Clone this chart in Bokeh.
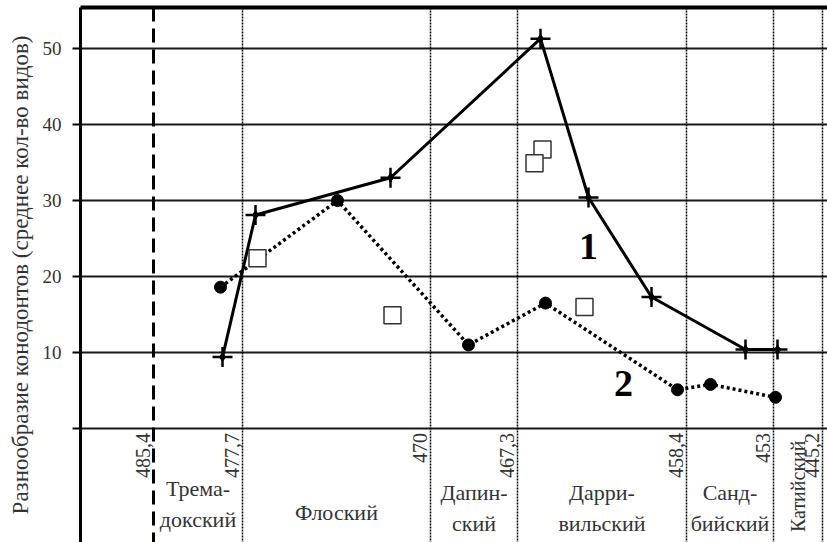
import math
from bokeh.plotting import figure
from bokeh.models import Span, FixedTicker, ColumnDataSource
from bokeh.core.properties import value
from bokeh.embed import file_html
from bokeh.resources import INLINE

# ---- data (x = position along the stage scale, y = mean number of species) ----
boundary_pos = [7.3, 16.2, 35.0, 43.7, 60.6, 69.3, 74.2]
boundary_age = ["485,4", "477,7", "470", "467,3", "458,4", "453", "445,2"]
stages = ["Трема-\nдокский", "Флоский", "Дапин-\nский", "Дарри-\nвильский",
          "Санд-\nбийский", "Катийский"]

s1_x = [14.2, 17.5, 31.0, 46.0, 50.8, 57.1, 66.5, 69.7]
s1_y = [9.4, 28.1, 33.0, 51.3, 30.4, 17.3, 10.4, 10.4]

s2_x = [14.0, 25.7, 38.8, 46.5, 59.7, 63.0, 69.5]
s2_y = [18.6, 30.0, 11.0, 16.5, 5.1, 5.8, 4.1]

sq_x = [17.7, 31.2, 46.2, 45.4, 50.4]
sq_y = [22.4, 14.9, 36.7, 34.9, 16.0]

y_ticks = [0, 10, 20, 30, 40, 50]
series_labels = ["1", "2"]
series_label_x = [50.8, 54.3]
series_label_y = [23.9, 5.9]

FONT = "'Liberation Serif', 'Times New Roman', serif"

p = figure(width=827, height=542, output_backend="svg", toolbar_location=None,
           x_range=(0, 74.7), y_range=(-15.0, 55.4),
           x_axis_location="above",
           min_border_left=80, min_border_top=7, min_border_right=0, min_border_bottom=0)
p.outline_line_color = None
p.background_fill_color = "white"
p.border_fill_color = "white"

# top border via empty x-axis
p.xaxis.ticker = FixedTicker(ticks=[])
p.xaxis.axis_line_width = 4
p.xaxis.axis_line_color = "black"
p.xaxis.major_tick_out = 0
p.xaxis.major_tick_in = 0
p.xaxis.minor_tick_out = 0
p.xaxis.major_label_standoff = 0
p.xaxis.major_label_text_font_size = "0px"
p.xgrid.visible = False

# y axis
p.yaxis.ticker = FixedTicker(ticks=y_ticks)
p.yaxis.major_label_overrides = {0: ""}
p.yaxis.axis_line_width = 3
p.yaxis.axis_line_color = "black"
p.yaxis.major_tick_out = 8
p.yaxis.major_tick_in = 0
p.yaxis.major_tick_line_width = 2
p.yaxis.minor_tick_line_color = None
p.yaxis.major_label_text_font = FONT
p.yaxis.major_label_text_font_size = "19px"
p.yaxis.major_label_text_color = "#333"
p.yaxis.major_label_standoff = 11
p.yaxis.axis_label = "Разнообразие конодонтов (среднее кол-во видов)"
p.yaxis.axis_label_text_font = FONT
p.yaxis.axis_label_text_font_style = "normal"
p.yaxis.axis_label_text_font_size = "23px"
p.yaxis.axis_label_text_color = "#333"
p.yaxis.axis_label_standoff = 7

p.ygrid.ticker = FixedTicker(ticks=y_ticks)
p.ygrid.grid_line_color = "black"
p.ygrid.grid_line_width = 2
p.ygrid.grid_line_alpha = 0.9

# stage boundaries
for i, b in enumerate(boundary_pos):
    if i == 0:
        sp = Span(location=b, dimension="height", line_color="black",
                  line_width=3, line_dash="14 7")
    else:
        sp = Span(location=b, dimension="height", line_color="black",
                  line_width=1.5, line_dash="2 1")
    p.add_layout(sp)

# age labels (rotated)
age_src = ColumnDataSource(dict(x=[b - 1.1 for b in boundary_pos],
                                y=[-0.6] * len(boundary_pos),
                                t=boundary_age))
p.text(x="x", y="y", text="t", source=age_src, angle=math.pi / 2,
       text_align="right", text_baseline="middle",
       text_font=value(FONT), text_font_size="20px", text_color="#333")

# stage labels
mids = [(boundary_pos[i] + boundary_pos[i + 1]) / 2 for i in range(len(stages))]
flat_idx = [0, 1, 2, 3, 4]
st_y = [-9.9, -11.1, -10.5, -10.5, -10.5]
st_src = ColumnDataSource(dict(x=[mids[i] for i in flat_idx], y=st_y,
                               t=[stages[i] for i in flat_idx]))
p.text(x="x", y="y", text="t", source=st_src,
       text_align="center", text_baseline="middle", text_line_height=1.25,
       text_font=value(FONT), text_font_size="22px", text_color="#333")
rot_src = ColumnDataSource(dict(x=[mids[5]], y=[-7.6], t=[stages[5]]))
p.text(x="x", y="y", text="t", source=rot_src, angle=math.pi / 2,
       text_align="center", text_baseline="middle",
       text_font=value(FONT), text_font_size="20px", text_color="#333")

# series 2 (dotted, circles)
p.line(s2_x, s2_y, line_color="black", line_width=3.5, line_dash="3 3")
p.scatter(s2_x, s2_y, marker="circle", size=12, fill_color="black", line_color="black")

# series 1 (solid, stars)
p.line(s1_x, s1_y, line_color="black", line_width=3)
p.scatter(s1_x, s1_y, marker="cross", size=20, line_color="black", line_width=2.5)
p.scatter(s1_x, s1_y, marker="diamond", size=9, fill_color="black", line_color="black")

# open squares
p.scatter(sq_x, sq_y, marker="square", size=17, fill_color="white",
          line_color="#333", line_width=1.5)

# series labels
lab_src = ColumnDataSource(dict(x=series_label_x, y=series_label_y, t=series_labels))
p.text(x="x", y="y", text="t", source=lab_src, text_align="center",
       text_baseline="middle", text_font=value(FONT), text_font_style="bold",
       text_font_size="38px", text_color="black")

open("out.html", "w").write(file_html(p, INLINE))
